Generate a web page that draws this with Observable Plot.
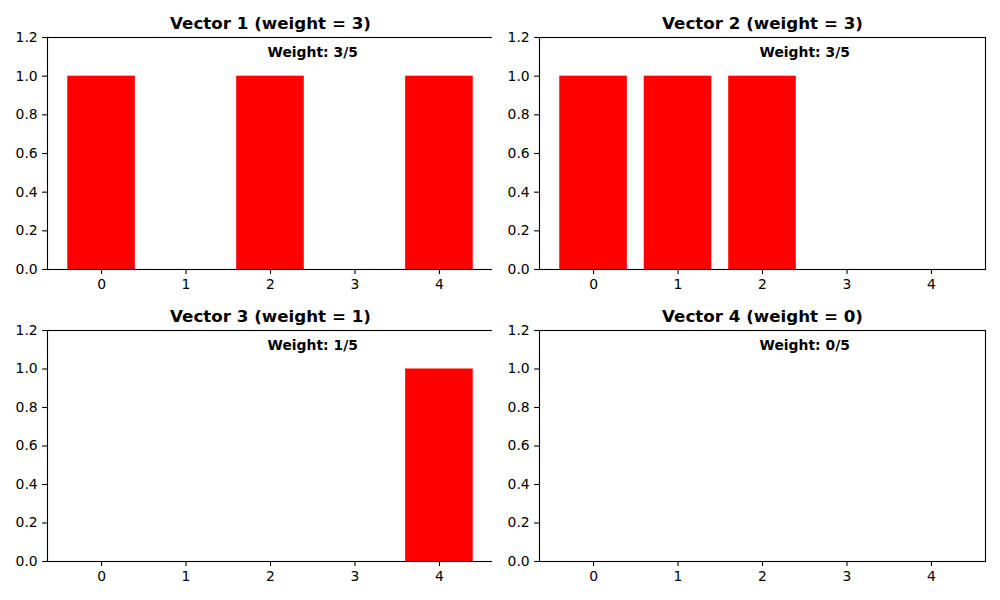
<!DOCTYPE html>
<html>
<head>
<meta charset="utf-8">
<script src="https://cdn.jsdelivr.net/npm/d3@7"></script>
<script src="https://cdn.jsdelivr.net/npm/@observablehq/plot@0.6"></script>
<style>
  body { margin: 0; background: white; }
  #wrap { position: relative; width: 1000px; height: 600px; background: white; }
  #wrap > svg { position: absolute; }
</style>
</head>
<body>
<div id="wrap"></div>
<script>
const categories = [0, 1, 2, 3, 4];
const vector1 = [1, 0, 1, 0, 1];
const vector2 = [1, 1, 1, 0, 0];
const vector3 = [0, 0, 0, 0, 1];
const vector4 = [0, 0, 0, 0, 0];
const titles = ["Vector 1 (weight = 3)", "Vector 2 (weight = 3)", "Vector 3 (weight = 1)", "Vector 4 (weight = 0)"];
const weightLabels = ["Weight: 3/5", "Weight: 3/5", "Weight: 1/5", "Weight: 0/5"];
const yTicks = [0, 0.2, 0.4, 0.6, 0.8, 1.0, 1.2];

const vectors = [vector1, vector2, vector3, vector4];
const positions = [
  {left: 0, top: 0, mb: 31},
  {left: 492, top: 0, mb: 31},
  {left: 0, top: 293, mb: 32},
  {left: 492, top: 293, mb: 32}
];

const wrap = document.getElementById("wrap");

vectors.forEach((vals, k) => {
  const data = categories.map((c, i) => ({c, v: vals[i]}));
  const pos = positions[k];
  const chart = Plot.plot({
    width: 500,
    height: 300,
    marginLeft: 47,
    marginRight: 7,
    marginTop: 37,
    marginBottom: pos.mb,
    style: {fontFamily: "DejaVu Sans", fontSize: "13.9px", background: "white", overflow: "visible", color: "black"},
    x: {domain: [-0.64, 4.64], label: null},
    y: {domain: [0, 1.2], label: null},
    marks: [
      Plot.rectY(data, {x1: d => d.c - 0.4, x2: d => d.c + 0.4, y1: 0, y2: "v", fill: "#ff0000"}),
      Plot.frame({stroke: "black", strokeWidth: 1.1}),
      Plot.axisX({ticks: categories, tickFormat: d => String(d), tickSize: 4.9, tickPadding: 4.9, fontSize: 13.9, label: null, strokeWidth: 1.1}),
      Plot.axisY({ticks: yTicks, tickFormat: d3.format(".1f"), tickSize: 4.9, tickPadding: 4.9, fontSize: 13.9, label: null, strokeWidth: 1.1}),
      Plot.text([titles[k]], {frameAnchor: "top", text: d => d, lineAnchor: "bottom", dy: -8.3, fontSize: 16.7, fontWeight: "bold", fill: "black"}),
      Plot.text([weightLabels[k]], {x: 2.5, y: 1.1, text: d => d, textAnchor: "middle", lineAnchor: "bottom", fontSize: 13.9, fontWeight: "bold", fill: "black"})
    ]
  });
  chart.style.left = pos.left + "px";
  chart.style.top = pos.top + "px";
  wrap.appendChild(chart);
});
</script>
</body>
</html>
